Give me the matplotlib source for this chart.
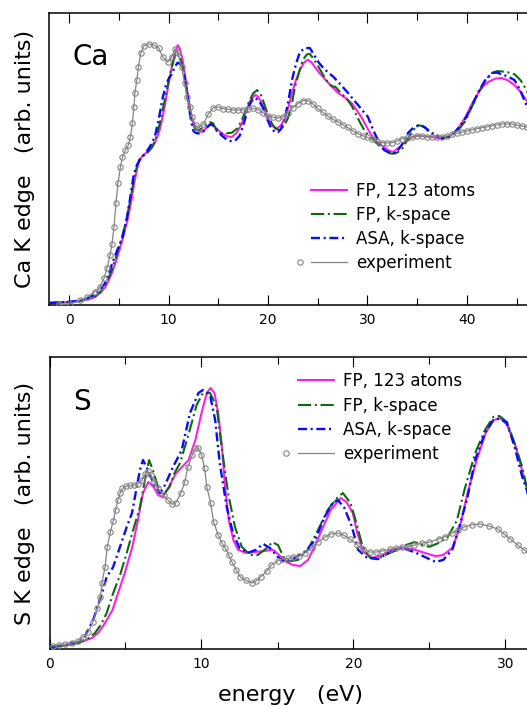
import matplotlib
matplotlib.use("Agg")
import matplotlib.pyplot as plt
from matplotlib.ticker import MultipleLocator, FixedLocator
from matplotlib.lines import Line2D

# ---------------- data: Ca K edge (top panel) ----------------
ca_exp_e = [-1.0, 0.1, 1.1, 1.8, 2.55, 3.05, 3.5, 3.8, 4.1, 4.3, 4.5, 4.7, 4.9, 5.15, 5.35,
            5.65, 5.95, 6.15, 6.35, 6.5, 6.6, 6.8, 6.95, 7.2, 7.5, 8.0, 8.5, 9.0, 9.4, 9.9,
            10.3, 10.65, 10.9, 11.3, 11.6, 11.85, 12.1, 12.35, 12.7, 13.0, 13.5, 14.0, 14.5,
            15.0, 15.5, 16.0, 16.5, 17.0, 17.5, 18.0, 18.5, 19.0, 19.5, 20.0, 20.5, 21.0,
            21.5, 22.0, 22.5, 23.0, 23.5, 24.0, 24.5, 25.0, 25.5, 26.0, 26.5, 27.0, 27.5,
            28.0, 28.5, 29.0, 29.5, 30.0, 30.5, 31.0, 31.5, 32.0, 32.5, 33.0, 33.5, 34.0,
            34.5, 35.0, 35.5, 36.0, 36.5, 37.0, 37.5, 38.0, 38.5, 39.0, 39.5, 40.0, 40.5,
            41.0, 41.5, 42.0, 42.5, 43.0, 43.5, 44.0, 44.5, 45.0, 45.5, 46.0, 46.5]
ca_exp_mu = [0.2, 0.4, 1.7, 2.7, 4.5, 6.0, 9.2, 12.7, 17.0, 21.0, 26.7, 35.0, 41.8, 47.3, 50.7,
             53.0, 54.8, 57.5, 62.3, 67.8, 72.6, 77.0, 81.5, 86.3, 88.7, 89.4, 89.0, 88.0, 85.0, 83.2,
             85.0, 87.7, 86.3, 81.5, 76.0, 71.2, 67.8, 64.4, 61.6, 60.6, 62.0, 65.5, 67.6,
             67.8, 67.2, 67.0, 66.8, 66.8, 66.8, 67.0, 67.4, 66.9, 65.8, 64.8, 64.3, 64.0,
             64.4, 65.8, 67.6, 69.0, 70.0, 70.0, 68.9, 67.3, 66.0, 64.7, 63.6, 62.8, 61.8,
             60.8, 59.7, 58.7, 58.0, 57.4, 56.7, 56.0, 55.6, 55.5, 55.6, 56.2, 57.0, 57.3,
             57.5, 57.8, 57.9, 57.6, 57.5, 57.5, 57.7, 57.9, 58.4, 58.8, 59.2, 59.6, 60.0,
             60.4, 60.7, 61.0, 61.4, 61.7, 62.0, 62.0, 62.0, 61.6, 61.3, 61.0, 60.7]

ca_fp123_e = [-2.0, 0.0, 1.0, 2.0, 2.6, 3.15, 3.6, 3.95, 4.3, 4.75, 5.15, 5.55, 5.85, 6.15, 6.35,
              6.6, 6.85, 7.05, 7.35, 7.6, 7.9, 8.3, 8.6, 8.9, 9.1, 9.4, 9.6, 9.9, 10.1, 10.4,
              10.65, 10.9, 11.1, 11.4, 11.65, 11.9, 12.15, 12.4, 12.7, 13.0, 13.35, 13.75,
              14.15, 14.45, 14.85, 15.35, 15.85, 16.35, 16.85, 17.35, 17.75, 18.2, 18.7, 19.0,
              19.4, 19.8, 20.2, 20.6, 20.9, 21.3, 21.7, 22.1, 22.4, 22.8, 23.2, 23.6, 24.0,
              24.4, 24.7, 25.2, 25.8, 26.35, 27.05, 27.75, 28.45, 28.95, 29.45, 29.75, 30.25,
              30.75, 31.25, 31.7, 32.2, 32.6, 33.2, 33.8, 34.4, 35.1, 35.8, 36.5, 37.5, 38.15,
              38.75, 39.35, 39.85, 40.45, 41.15, 41.65, 42.15, 42.85, 43.5, 44.1, 44.8, 45.4,
              46.0, 46.6]
ca_fp123_mu = [0.7, 1.0, 1.3, 2.0, 2.7, 4.2, 6.0, 8.3, 11.0, 15.5, 20.0, 25.0, 29.0, 34.0, 38.0,
               43.0, 47.0, 49.5, 51.0, 51.8, 52.4, 53.8, 55.5, 58.0, 60.0, 64.5, 68.0, 74.0, 78.0, 83.0,
               86.5, 89.0, 88.0, 84.0, 78.5, 72.6, 67.5, 63.0, 60.5, 59.5, 59.3, 60.5,
               61.8, 61.5, 60.3, 58.8, 57.8, 57.5, 59.0, 62.0, 66.0, 70.0, 72.0, 71.3,
               69.0, 65.5, 62.5, 60.8, 60.5, 61.5, 64.0, 68.5, 72.6, 77.0, 80.5, 83.0, 84.0,
               83.0, 81.5, 79.3, 77.0, 75.0, 72.6, 71.0, 69.0, 66.5, 64.0, 62.0, 59.0,
               56.5, 55.0, 54.0, 52.8, 52.4, 54.0, 56.0, 57.3, 58.0, 57.7, 57.5, 57.0, 57.6,
               59.0, 61.5, 64.4, 68.5, 72.6, 75.0, 76.4, 77.5, 77.7, 77.0, 75.3, 73.0,
               70.0, 66.0]

ca_fpk_e = [-2.0, 0.0, 1.0, 2.0, 2.6, 3.15, 3.6, 3.95, 4.3, 4.75, 5.15, 5.55, 5.85, 6.15, 6.35,
            6.6, 6.85, 7.05, 7.35, 7.6, 7.9, 8.3, 8.6, 8.9, 9.1, 9.4, 9.6, 9.9, 10.1, 10.4,
            10.65, 10.9, 11.1, 11.4, 11.65, 11.9, 12.15, 12.4, 12.7, 13.0, 13.35, 13.75,
            14.15, 14.45, 14.85, 15.25, 15.85, 16.35, 16.95, 17.45, 18.0, 18.5, 18.9, 19.2,
            19.5, 19.9, 20.4, 20.8, 21.2, 21.6, 22.0, 22.4, 22.7, 23.1, 23.5, 23.9, 24.2,
            24.6, 25.0, 25.5, 26.0, 26.4, 26.8, 27.35, 27.95, 28.45, 28.75, 29.25, 29.75,
            30.25, 30.75, 31.2, 31.7, 32.2, 32.5, 33.0, 33.5, 34.0, 34.5, 35.1, 35.6, 36.1,
            36.7, 37.2, 37.9, 38.45, 39.15, 39.85, 40.45, 41.15, 41.85, 42.55, 43.05, 43.5,
            44.1, 44.8, 45.4, 46.0, 46.6]
ca_fpk_mu = [0.7, 1.0, 1.4, 2.2, 3.0, 4.6, 6.7, 9.2, 12.2, 17.0, 21.5, 26.5, 31.0, 36.0, 40.0,
             44.5, 48.0, 49.8, 51.0, 51.6, 52.3, 54.0, 56.0, 59.5, 62.0, 67.0, 70.0, 75.0, 78.5, 82.5,
             85.5, 86.5, 85.3, 81.5, 76.5, 71.0, 66.0, 62.0, 60.2, 59.8, 60.5, 61.8,
             62.6, 62.3, 59.5, 58.8, 58.8, 59.0, 60.6, 64.0, 69.0, 72.5, 73.6, 72.5,
             70.0, 66.0, 62.0, 60.3, 60.0, 61.3, 64.0, 69.0, 74.6, 79.5, 84.0, 85.8, 86.0,
             84.2, 82.0, 79.0, 76.4, 75.0, 74.6, 72.5, 70.5, 68.0, 66.0, 62.5, 59.5,
             57.5, 56.0, 54.5, 53.0, 52.0, 51.8, 52.2, 53.5, 56.5, 59.5, 61.6, 61.2, 60.0,
             58.5, 57.5, 57.4, 58.0, 60.0, 63.0, 67.5, 72.6, 77.0, 79.5, 80.1, 80.0,
             79.7, 79.0, 77.0, 73.6, 69.0]

ca_asa_e = [-2.0, 0.0, 1.0, 2.0, 2.6, 3.15, 3.6, 3.95, 4.35, 4.85, 5.35, 5.75, 6.05, 6.45, 6.75,
            7.05, 7.35, 7.75, 8.15, 8.6, 8.9, 9.1, 9.4, 9.7, 10.0, 10.3, 10.6, 10.9, 11.2,
            11.5, 11.75, 12.0, 12.25, 12.5, 12.8, 13.1, 13.5, 13.9, 14.25, 14.55, 14.95,
            15.35, 15.85, 16.35, 16.75, 17.15, 17.55, 18.0, 18.4, 18.7, 19.1, 19.5, 19.9,
            20.3, 20.7, 21.0, 21.3, 21.7, 22.1, 22.4, 22.8, 23.2, 23.7, 24.2, 24.6, 25.1,
            25.6, 26.1, 26.55, 27.05, 27.55, 28.05, 28.55, 29.05, 29.45, 30.05, 30.5, 30.9,
            31.3, 31.7, 32.2, 32.8, 33.4, 34.1, 34.7, 35.3, 35.8, 36.3, 36.9, 37.5, 38.15,
            38.75, 39.35, 39.95, 40.55, 41.15, 41.85, 42.55, 43.05, 43.5, 44.1, 44.8, 45.3,
            45.8, 46.4]
ca_asa_mu = [0.7, 1.1, 1.5, 2.6, 3.6, 5.3, 7.5, 10.5, 14.5, 19.0, 23.0, 29.0, 35.0, 44.0, 47.5,
             49.5, 50.7, 52.3, 54.5, 57.5, 62.0, 65.5, 71.0, 75.0, 77.5, 79.0, 81.5, 83.0, 82.5,
             80.0, 75.0, 69.0, 63.0, 59.5, 58.8, 58.8, 59.5, 61.0, 62.0, 61.3, 59.5,
             58.0, 56.6, 56.0, 56.5, 58.0, 62.0, 67.5, 70.2, 71.0, 69.8, 67.5, 63.8,
             60.6, 59.2, 59.2, 60.3, 64.0, 71.0, 77.0, 82.5, 86.6, 88.0, 88.0, 85.8, 83.0,
             81.0, 79.5, 78.2, 76.4, 74.5, 72.6, 70.5, 68.5, 66.8, 64.4, 60.5, 57.5,
             55.0, 53.0, 52.2, 52.0, 54.5, 59.0, 61.0, 61.6, 60.8, 59.0, 57.8, 57.0, 57.3,
             59.0, 61.5, 64.4, 68.5, 73.0, 77.0, 79.5, 79.6, 79.0, 78.3, 77.0, 74.0,
             70.0, 65.0]

# ---------------- data: S K edge (bottom panel) ----------------
s_exp_e = [0.2, 0.6, 1.05, 1.5, 1.85, 2.2, 2.55, 2.85, 3.15, 3.35, 3.45, 3.65, 3.8, 4.0, 4.2,
           4.35, 4.5, 4.65, 4.8, 5.05, 5.3, 5.55, 5.85, 6.1, 6.3, 6.45, 6.65, 6.9, 7.15, 7.5,
           7.8, 8.05, 8.3, 8.65, 8.9, 9.1, 9.4, 9.6, 9.8, 10.0, 10.2, 10.35, 10.6, 10.8, 11.1,
           11.35, 11.55, 11.8, 12.0, 12.3, 12.55, 12.9, 13.3, 13.6, 13.9, 14.3, 14.6, 15.0,
           15.3, 15.7, 16.0, 16.4, 16.8, 17.25, 17.65, 18.15, 18.55, 18.95, 19.35, 19.75,
           20.25, 20.6, 21.1, 21.5, 21.9, 22.4, 22.8, 23.2, 23.6, 24.0, 24.5, 25.0, 25.6,
           26.0, 26.5, 26.9, 27.3, 27.8, 28.3, 28.9, 29.5, 29.9, 30.3, 30.8, 31.2, 31.7]
s_exp_mu = [1.0, 1.4, 1.7, 2.0, 2.7, 4.0, 5.8, 9.2, 14.0, 17.8, 22.6, 28.0, 35.0, 40.0, 44.0,
            47.6, 51.0, 53.4, 55.0, 55.8, 56.0, 56.2, 56.6, 57.9, 60.0, 61.0, 59.6, 57.2, 55.0, 52.7,
            51.0, 49.6, 50.0, 53.4, 57.2, 62.3, 66.4, 68.8, 68.8, 66.4, 62.0, 55.5, 50.0, 43.5, 39.0,
            36.3, 34.6, 32.2, 29.8, 27.0, 24.7, 23.6, 22.6, 23.3, 24.7, 26.7, 28.8, 30.1,
            30.8, 31.0, 31.5, 31.8, 32.9, 34.6, 36.6, 38.4, 39.4, 39.7, 39.0, 37.7,
            35.6, 34.2, 33.2, 33.2, 33.6, 34.2, 34.6, 34.9, 35.0, 35.6, 36.3, 36.6, 37.7,
            38.4, 39.7, 40.7, 41.8, 42.5, 42.8, 42.1, 41.1, 39.4, 37.7, 35.6, 34.0, 32.5]

s_fp123_e = [0.0, 1.0, 1.9, 2.8, 3.2, 3.65, 4.15, 4.5, 4.95, 5.45, 5.85, 6.15, 6.5, 6.85, 7.15,
             7.45, 7.85, 8.3, 8.75, 9.15, 9.6, 10.0, 10.35, 10.6, 10.85, 11.1, 11.35, 11.55,
             11.8, 12.1, 12.4, 12.9, 13.5, 14.2, 14.7, 15.1, 15.6, 16.0, 16.5, 17.0, 17.4,
             18.0, 18.5, 19.15, 19.55, 19.95, 20.25, 20.65, 21.25, 21.9, 22.5, 23.2, 23.9,
             24.7, 25.4, 25.9, 26.5, 27.0, 27.5, 28.1, 28.7, 29.2, 29.7, 30.1, 30.7, 31.2,
             31.5, 31.9, 32.4]
s_fp123_mu = [0.5, 1.2, 2.0, 3.8, 5.5, 8.9, 13.4, 19.0, 26.0, 35.0, 45.0, 53.4, 57.2, 55.5, 52.7,
              52.0, 55.5, 60.0, 62.5, 64.7, 71.6, 80.8, 87.7, 89.4, 87.7, 80.8, 69.0, 55.5,
              44.0, 37.3, 34.0, 32.9, 33.2, 33.6, 34.0, 32.2, 29.8, 28.8, 28.4, 30.5, 34.6,
              41.8, 47.6, 51.7, 50.3, 46.6, 39.7, 33.2, 31.2, 32.2, 34.0, 34.6, 34.2,
              32.9, 31.8, 32.2, 34.6, 41.8, 53.4, 64.7, 74.0, 78.4, 79.0, 76.7, 69.0, 59.0,
              53.4, 45.0, 37.0]

s_fpk_e = [0.0, 1.0, 2.0, 2.6, 3.0, 3.4, 3.76, 4.18, 4.64, 5.08, 5.5, 5.95, 6.28, 6.55, 6.8,
           7.14, 7.47, 7.9, 8.2, 8.59, 9.1, 9.68, 10.1, 10.56, 11.0, 11.33, 11.75, 12.2,
           12.65, 13.2, 13.7, 14.3, 14.66, 15.03, 15.4, 15.7, 16.35, 17.0, 17.66, 18.3,
           18.96, 19.3, 19.8, 20.2, 20.6, 21.1, 21.7, 22.5, 23.4, 24.0, 24.6, 25.0, 25.6,
           26.2, 26.8, 27.3, 28.0, 28.65, 29.2, 29.6, 30.1, 30.6, 31.1, 31.4, 31.8, 32.3]
s_fpk_mu = [0.6, 1.2, 2.3, 3.8, 5.5, 8.5, 12.3, 19.0, 25.3, 32.9, 40.7, 48.6, 57.9, 64.7, 61.3,
            55.5, 52.7, 55.5, 60.0, 63.7, 72.6, 83.6, 87.7, 87.7, 82.9, 69.0, 53.4, 41.8,
            35.0, 32.2, 32.2, 34.6, 36.6, 35.6, 31.5, 30.0, 30.5, 34.0, 40.7, 47.6,
            52.0, 53.4, 50.0, 43.0, 35.0, 31.2, 31.2, 33.2, 35.5, 36.6, 35.6, 35.0, 36.3,
            38.4, 44.0, 54.5, 67.0, 75.0, 79.5, 79.8, 77.7, 70.5, 62.3, 55.5, 48.0, 40.0]

s_asa_e = [0.0, 1.0, 1.8, 2.3, 2.87, 3.45, 3.76, 4.18, 4.64, 5.08, 5.43, 5.74, 5.95, 6.15, 6.48,
           6.95, 7.27, 7.6, 8.12, 8.7, 9.24, 9.8, 10.1, 10.56, 10.9, 11.2, 11.66, 12.07,
           12.5, 13.05, 13.6, 14.05, 14.5, 15.03, 15.5, 16.15, 16.8, 17.47, 18.1, 18.65,
           18.98, 19.4, 19.9, 20.3, 20.9, 21.6, 22.3, 23.2, 24.0, 24.7, 25.4, 25.9, 26.5,
           26.9, 27.5, 28.0, 28.65, 29.2, 29.6, 30.1, 30.6, 31.1, 31.4, 31.8, 32.3]
s_asa_mu = [0.7, 1.4, 2.5, 4.1, 9.9, 19.0, 24.7, 28.0, 35.0, 41.8, 46.6, 55.5, 61.3, 64.7, 61.3,
            55.5, 53.4, 56.2, 62.3, 68.1, 80.8, 87.7, 88.7, 87.0, 78.4, 63.7, 48.6, 39.7,
            34.6, 32.9, 34.0, 36.0, 34.6, 31.5, 29.8, 31.2, 33.2, 37.3, 45.2, 50.3,
            51.0, 48.3, 41.8, 34.0, 31.2, 30.8, 32.9, 34.6, 33.2, 31.5, 29.8, 30.5, 34.0,
            40.7, 52.0, 64.7, 74.0, 78.4, 79.0, 77.4, 69.2, 59.0, 54.5, 46.0, 38.0]

legend_labels = ["FP, 123 atoms", "FP, k-space", "ASA, k-space", "experiment"]
panel_labels = ["Ca", "S"]
ylabels = ["Ca K edge   (arb. units)", "S K edge   (arb. units)"]
xlabel = "energy   (eV)"
ca_major_ticks = [0, 10, 20, 30, 40]
s_major_ticks = [0, 10, 20, 30]

# ---------------- styles ----------------
plt.rcParams['font.family'] = ['DejaVu Sans']
plt.rcParams['lines.scale_dashes'] = False
MAG = '#ff1ee8'
GRN = '#0b6b0b'
BLU = '#0a0aff'
GRY = '#858585'
DASH_G = (0, (9.5, 2.6, 1.5, 2.6))
DASH_B = (0, (6.5, 2.6, 1.5, 2.6))
LW = 1.5

W, H = 527, 708
fig = plt.figure(figsize=(W / 100, H / 100), dpi=100)


def axes_px(left, top, right, bottom):
    return fig.add_axes([left / W, 1 - bottom / H, (right - left) / W, (bottom - top) / H])


ax1 = axes_px(49.4, 13, 49.4 + 52 * 9.94, 305)
ax1.set_xlim(-2, 50)
ax2 = axes_px(49.5, 357, 49.5 + 36 * 15.2, 649)
ax2.set_xlim(0, 36)

exp_kw = dict(color=GRY, lw=0.9, marker='o', ms=3.9, mfc='none', mec=GRY, mew=0.8, zorder=5)

for ax, majors, data in [
        (ax1, ca_major_ticks, (ca_fp123_e, ca_fp123_mu, ca_fpk_e, ca_fpk_mu, ca_asa_e, ca_asa_mu, ca_exp_e, ca_exp_mu)),
        (ax2, s_major_ticks, (s_fp123_e, s_fp123_mu, s_fpk_e, s_fpk_mu, s_asa_e, s_asa_mu, s_exp_e, s_exp_mu))]:
    e1, m1, e2, m2, e3, m3, ee, me = data
    ax.plot(e1, m1, color=MAG, lw=LW, zorder=2)
    ax.plot(e2, m2, color=GRN, lw=LW, ls=DASH_G, zorder=3)
    ax.plot(e3, m3, color=BLU, lw=LW + 0.2, ls=DASH_B, zorder=4)
    ax.plot(ee, me, **exp_kw)
    ax.set_ylim(0, 100)
    ax.set_yticks([])
    ax.xaxis.set_major_locator(FixedLocator(majors))
    ax.xaxis.set_minor_locator(MultipleLocator(5))
    ax.tick_params(axis='x', which='both', direction='in', top=True, bottom=True,
                   labelsize=10, pad=5.5, width=0.8, colors='black')
    ax.tick_params(axis='x', which='major', length=7.2)
    ax.tick_params(axis='x', which='minor', length=4.8)
    for sp in ax.spines.values():
        sp.set_linewidth(1.1)
        sp.set_color('black')


def fx(px):
    return px / W


def fy(py):
    return 1 - py / H


# legends drawn in figure pixel positions
def draw_legend(rows, x0, x1, xm, xt):
    styles = [dict(color=MAG, lw=LW), dict(color=GRN, lw=LW, ls=DASH_G),
              dict(color=BLU, lw=LW + 0.2, ls=DASH_B), dict(color=GRY, lw=0.9)]
    for r, lab, st in zip(rows, legend_labels, styles):
        fig.add_artist(Line2D([fx(x0), fx(x1)], [fy(r), fy(r)], transform=fig.transFigure, **st))
        fig.text(fx(xt), fy(r + 6), lab, fontsize=12, ha='left', va='baseline')
    fig.add_artist(Line2D([fx(xm)], [fy(rows[3])], transform=fig.transFigure, marker='o', ms=3.9,
                          mfc='none', mec=GRY, mew=0.8, ls='none'))


draw_legend([189.5, 214, 238, 262], 311, 347, 299.5, 356)
draw_legend([380, 405, 429, 452.7], 298, 334, 285.5, 343)

# panel labels
fig.text(fx(73), fy(65), panel_labels[0], fontsize=20, ha='left', va='baseline')
fig.text(fx(73), fy(410), panel_labels[1], fontsize=20, ha='left', va='baseline')

# axis labels
fig.text(fx(25), fy(159), ylabels[0], fontsize=16, rotation=90, ha='center', va='center')
fig.text(fx(25), fy(503), ylabels[1], fontsize=16, rotation=90, ha='center', va='center')
fig.text(fx(291), fy(701), xlabel, fontsize=16, ha='center', va='baseline')

fig.savefig('out.png', dpi=100)
